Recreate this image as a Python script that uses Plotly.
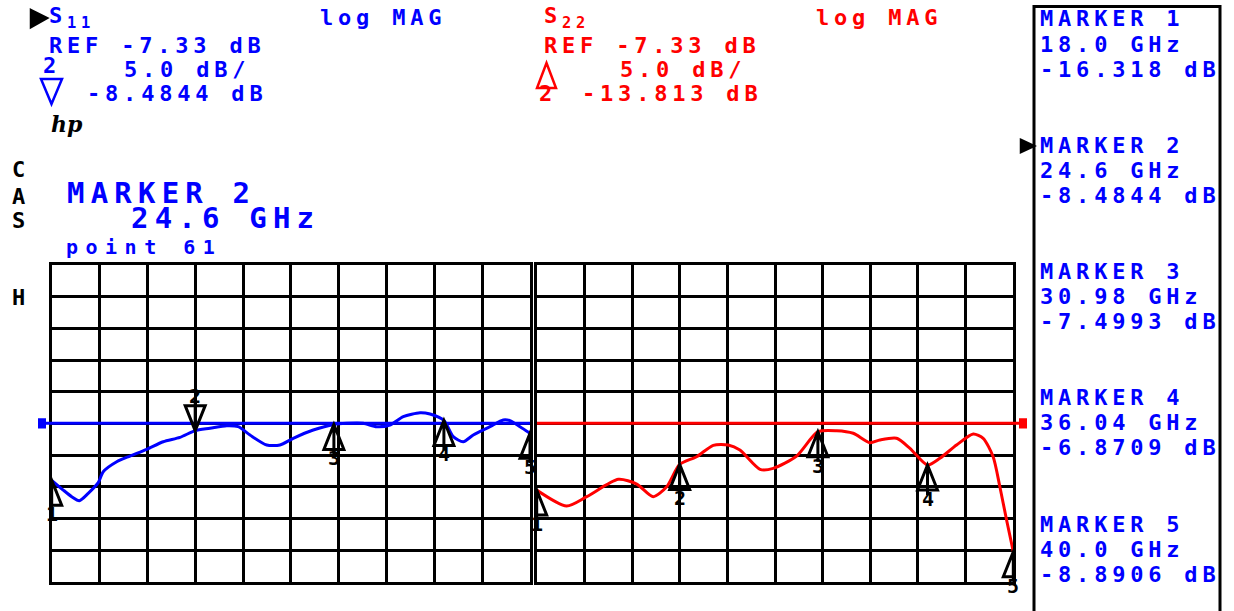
import plotly.graph_objects as go

W, H = 1234, 611
OFF = 0  # page body margin is removed by the post script below

# ---------------- data ----------------
f_start, f_stop = 18.0, 40.0
ref_level = -7.33          # dB, reference at centre line
scale_per_div = 5.0        # dB / division

freq_s11 = [18.0, 18.53, 18.92, 19.27, 19.68, 20.14, 20.37, 20.99, 21.60, 22.37,
            23.13, 23.90, 24.6, 25.28, 26.05, 26.58, 27.12, 27.89, 28.50, 29.11,
            30.03, 30.98, 31.57, 32.33, 32.95, 33.56, 34.17, 34.94, 35.40, 36.04,
            36.47, 36.93, 37.39, 38.16, 38.77, 39.08, 39.54, 40.0]
db_s11 = [-16.32, -17.86, -18.91, -19.55, -18.38, -16.70, -14.97, -13.39, -12.49, -11.43,
          -10.23, -9.54, -8.48, -8.11, -7.70, -7.86, -9.17, -10.75, -10.75, -9.69,
          -8.38, -7.50, -7.33, -7.33, -7.86, -7.59, -6.28, -5.65, -5.86, -6.87,
          -9.44, -10.23, -9.17, -7.86, -6.80, -6.91, -7.86, -8.89]

freq_s22 = [18.0, 19.38, 20.31, 21.77, 22.62, 23.38, 24.00, 24.6, 25.38, 26.15,
            26.84, 27.38, 28.31, 28.92, 30.00, 30.98, 31.85, 32.61, 33.38, 33.84,
            34.61, 35.23, 36.04, 36.61, 37.38, 38.15, 38.61, 39.07, 39.38, 39.69, 40.0]
db_s22 = [-17.86, -20.38, -18.91, -16.17, -16.91, -18.91, -17.34, -13.81, -12.60, -10.80,
          -10.75, -11.54, -14.59, -14.43, -12.49, -8.65, -8.49, -8.90, -10.39, -9.96,
          -9.69, -11.27, -13.91, -12.85, -10.75, -9.01, -9.69, -12.60, -17.34, -22.59, -27.60]

marker_ids = ["1", "2", "3", "4", "5"]
marker_freq = [18.0, 24.6, 30.98, 36.04, 40.0]
s11_marker_db = [-16.318, -8.4844, -7.4993, -6.8709, -8.8906]
s22_marker_db = [-17.86, -13.813, -8.65, -13.91, -27.60]
marker_freq_labels = ["18.0 GHz", "24.6 GHz", "30.98 GHz", "36.04 GHz", "40.0 GHz"]
marker_db_labels = ["-16.318 dB", "-8.4844 dB", "-7.4993 dB", "-6.8709 dB", "-8.8906 dB"]
active_marker = 1  # index of marker 2

BLUE = "#0000FF"
RED = "#FF0000"
BLACK = "#000000"
MONO = "DejaVu Sans Mono"


def px(x):
    return (x - OFF) / W


def py(y):
    return 1 - (y - OFF) / H


def spaced(txt, sp):
    return f'<span style="letter-spacing:{sp}px">{txt}</span>'


fig = go.Figure()

fig.add_trace(go.Scatter(x=freq_s11, y=db_s11, mode="lines", xaxis="x", yaxis="y",
                         line=dict(color=BLUE, width=3, shape="spline", smoothing=0.7),
                         hoverinfo="skip", showlegend=False))
fig.add_trace(go.Scatter(x=freq_s22, y=db_s22, mode="lines", xaxis="x2", yaxis="y2",
                         line=dict(color=RED, width=3, shape="spline", smoothing=0.7),
                         hoverinfo="skip", showlegend=False))

axis_common = dict(showgrid=True, gridcolor=BLACK, gridwidth=3, zeroline=False,
                   showticklabels=False, ticks="", showline=True, linecolor=BLACK,
                   linewidth=3, mirror=True, fixedrange=True)
xr = dict(range=[f_start, f_stop], tick0=f_start, dtick=(f_stop - f_start) / 10)
yr = dict(range=[ref_level - 5 * scale_per_div, ref_level + 5 * scale_per_div],
          tick0=ref_level, dtick=scale_per_div)

y_dom = [py(581.7), py(265)]
fig.update_layout(
    width=W, height=H, margin=dict(l=0, r=0, t=0, b=0),
    paper_bgcolor="white", plot_bgcolor="white",
    xaxis=dict(domain=[px(51.7), px(530)], anchor="y", **xr, **axis_common),
    yaxis=dict(domain=y_dom, anchor="x", **yr, **axis_common),
    xaxis2=dict(domain=[px(536.7), px(1013.3)], anchor="y2", **xr, **axis_common),
    yaxis2=dict(domain=y_dom, anchor="x2", **yr, **axis_common),
)

shapes = []
annotations = []

# reference lines
shapes.append(dict(type="line", xref="paper", yref="y", x0=px(40), x1=px(530),
                   y0=ref_level, y1=ref_level, line=dict(color=BLUE, width=3)))
shapes.append(dict(type="rect", xref="paper", yref="y", x0=px(38), x1=px(46),
                   y0=ref_level - 0.8, y1=ref_level + 0.8, fillcolor=BLUE, line=dict(width=0)))
shapes.append(dict(type="line", xref="paper", yref="y2", x0=px(537), x1=px(1024),
                   y0=ref_level, y1=ref_level, line=dict(color=RED, width=3)))
shapes.append(dict(type="rect", xref="paper", yref="y2", x0=px(1019), x1=px(1027),
                   y0=ref_level - 0.8, y1=ref_level + 0.8, fillcolor=RED, line=dict(width=0)))


# trace markers
def add_marker(xref, yref, f, d, label, down=False):
    if down:
        path = "M0,0 L-10,25 L10,25 Z M0,0 L0,30"
        ys = 21
        yanchor = "bottom"
    else:
        path = "M0,0 L-10,-25 L10,-25 Z M0,0 L0,-30"
        ys = -20
        yanchor = "top"
    shapes.append(dict(type="path", xref=xref, yref=yref, xsizemode="pixel", ysizemode="pixel",
                       xanchor=f, yanchor=d, path=path, line=dict(color=BLACK, width=3)))
    annotations.append(dict(xref=xref, yref=yref, x=f, y=d, yshift=ys, text=f"<b>{label}</b>",
                            showarrow=False, xanchor="center", yanchor=yanchor,
                            font=dict(family=MONO, size=20, color=BLACK)))


for i, lab in enumerate(marker_ids):
    add_marker("x", "y", marker_freq[i], s11_marker_db[i], lab, down=(i == active_marker))
    add_marker("x2", "y2", marker_freq[i], s22_marker_db[i], lab)


def txt(x, y, t, color, size=22, sp=4.8):
    annotations.append(dict(xref="paper", yref="paper", x=px(x), y=py(y), text=spaced(f"<b>{t}</b>", sp),
                            showarrow=False, xanchor="left", yanchor="middle",
                            font=dict(family=MONO, size=size, color=color)))


# header, channel 1 (blue)
txt(47, 18, "S<sub>11</sub>", BLUE)
txt(318, 18, "log MAG", BLUE)
txt(47, 45, "REF -7.33 dB", BLUE)
txt(41, 65, "2", BLUE)
txt(122, 69, "5.0 dB/", BLUE)
txt(85, 93, "-8.4844 dB", BLUE)
# header, channel 2 (red)
txt(542, 18, "S<sub>22</sub>", RED)
txt(814, 18, "log MAG", RED)
txt(542, 45, "REF -7.33 dB", RED)
txt(618, 69, "5.0 dB/", RED)
txt(537, 93, "2", RED)
txt(580, 93, "-13.813 dB", RED)

# side letters
for ch, yy in [("C", 170), ("A", 196), ("S", 221), ("H", 297)]:
    txt(10, yy, ch, BLACK)

# hp logo
annotations.append(dict(xref="paper", yref="paper", x=px(49), y=py(124), text="<b><i>hp</i></b>",
                        showarrow=False, xanchor="left", yanchor="middle",
                        font=dict(family="DejaVu Serif", size=22, color=BLACK)))

# active marker readout
txt(65, 193, "MARKER 2", BLUE, size=29, sp=6.2)
txt(129, 218, "24.6 GHz", BLUE, size=29, sp=6.2)
txt(64, 247, "point 61", BLUE, size=20, sp=7.5)

# marker table
for i in range(5):
    base = 19 + 126.3 * i
    txt(1038, base, f"MARKER {marker_ids[i]}", BLUE)
    txt(1038, base + 25, marker_freq_labels[i], BLUE)
    txt(1038, base + 50, marker_db_labels[i], BLUE)

shapes.append(dict(type="rect", xref="paper", yref="paper", x0=px(1034), x1=px(1220),
                   y0=py(625), y1=py(6.5), line=dict(color=BLACK, width=3)))


# small pointer/symbol triangles
def tri(points, color, fill):
    p = "M" + " L".join(f"{px(a)},{py(b)}" for a, b in points) + " Z"
    shapes.append(dict(type="path", xref="paper", yref="paper", path=p,
                       fillcolor=color if fill else None,
                       line=dict(color=color, width=2.5)))


tri([(31, 10), (47, 18), (31, 27)], BLACK, True)
tri([(1021, 140), (1034, 146), (1021, 152)], BLACK, True)
tri([(41, 79), (62, 79), (51.5, 104)], BLUE, False)
tri([(546.5, 63), (556, 88), (537, 88)], RED, False)

fig.update_layout(shapes=shapes, annotations=annotations)
fig.write_html("out.html", config={"displayModeBar": False, "staticPlot": True},
               post_script="document.body.style.margin='0px';document.body.style.overflow='hidden';")
